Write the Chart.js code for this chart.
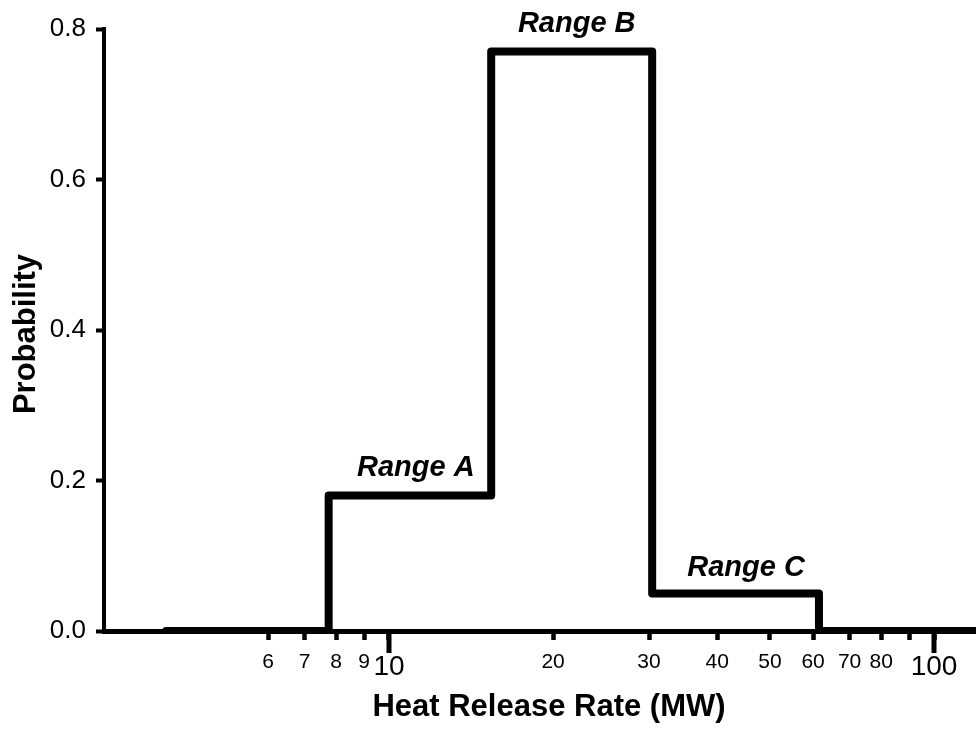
<!DOCTYPE html>
<html>
<head>
<meta charset="utf-8">
<script src="https://cdn.jsdelivr.net/npm/chart.js@4"></script>
<style>
  html, body { margin: 0; padding: 0; background: #ffffff; }
  #wrap { width: 976px; height: 729px; }
</style>
</head>
<body>
<div id="wrap"><canvas id="c" width="976" height="729"></canvas></div>
<script>
// ---- data ----
const stepX = [3.9, 7.75, 15.4, 30.4, 61.5, 120];
const probability = [0, 0.18, 0.77, 0.05, 0, 0];

const xTickValues = [6, 7, 8, 9, 10, 20, 30, 40, 50, 60, 70, 80, 90, 100];
const xTickLabels = ['6', '7', '8', '9', '10', '20', '30', '40', '50', '60', '70', '80', '', '100'];
const xMajorTicks = [10, 100];
const yTickValues = [0, 0.2, 0.4, 0.6, 0.8];

const rangeLabels = ['Range A', 'Range B', 'Range C'];
const rangeLabelX = [11.2, 22.1, 45.2];
const rangeLabelY = [0.206, 0.796, 0.073];

const xTitle = 'Heat Release Rate (MW)';
const yTitle = 'Probability';

const FONT = '"Liberation Sans", Arial, Helvetica, sans-serif';

const points = stepX.map((x, i) => ({ x: x, y: probability[i] }));

const extrasPlugin = {
  id: 'extras',
  afterDraw(chart) {
    const ctx = chart.ctx;
    const xs = chart.scales.x, ys = chart.scales.y;
    ctx.save();
    ctx.fillStyle = '#000';
    // longer major ticks
    xMajorTicks.forEach(v => {
      const px = xs.getPixelForValue(v);
      ctx.fillRect(Math.round(px) - 2.5, xs.top, 5, 22);
    });
    // range labels
    ctx.font = 'italic bold 29px ' + FONT;
    ctx.textAlign = 'center';
    ctx.textBaseline = 'alphabetic';
    rangeLabels.forEach((t, i) => {
      ctx.fillText(t, xs.getPixelForValue(rangeLabelX[i]), ys.getPixelForValue(rangeLabelY[i]));
    });
    // axis titles
    ctx.font = 'bold 31px ' + FONT;
    ctx.fillText(xTitle, 549, 716);
    ctx.translate(35, 334);
    ctx.rotate(-Math.PI / 2);
    ctx.fillText(yTitle, 0, 0);
    ctx.restore();
  }
};

new Chart(document.getElementById('c'), {
  type: 'line',
  data: {
    datasets: [{
      data: points,
      stepped: 'before',
      borderColor: '#000',
      borderWidth: 8,
      borderJoinStyle: 'round',
      borderCapStyle: 'round',
      pointRadius: 0,
      fill: false
    }]
  },
  options: {
    responsive: false,
    animation: false,
    devicePixelRatio: 1,
    layout: { padding: { top: 29, right: 0, left: 0, bottom: 0 } },
    plugins: { legend: { display: false }, tooltip: { enabled: false } },
    scales: {
      x: {
        type: 'logarithmic',
        min: 3,
        max: 119.4,
        afterBuildTicks: s => { s.ticks = xTickValues.map(v => ({ value: v })); },
        afterFit: s => { s.height = 98; },
        border: { display: true, color: '#000', width: 5 },
        grid: { display: true, drawOnChartArea: false, drawTicks: true, tickLength: 9, tickWidth: 4.5, tickColor: '#000' },
        ticks: {
          autoSkip: false,
          maxRotation: 0,
          color: '#000',
          padding: 10,
          font: c => (c.tick && xMajorTicks.includes(c.tick.value)) ? { size: 28, family: FONT } : { size: 21, family: FONT },
          callback: (v) => { const i = xTickValues.indexOf(v); return i >= 0 ? xTickLabels[i] : ''; }
        },
        title: { display: false }
      },
      y: {
        type: 'linear',
        min: 0,
        max: 0.8,
        afterBuildTicks: s => { s.ticks = yTickValues.map(v => ({ value: v })); },
        afterFit: s => { s.width = 104; },
        border: { display: true, color: '#000', width: 4 },
        grid: { display: true, drawOnChartArea: false, drawTicks: true, tickLength: 8, tickWidth: 4, tickColor: '#000' },
        ticks: {
          color: '#000',
          padding: 10,
          font: { size: 26, family: FONT },
          callback: v => Number(v).toFixed(1)
        },
        title: { display: false }
      }
    }
  },
  plugins: [extrasPlugin]
});
</script>
</body>
</html>
